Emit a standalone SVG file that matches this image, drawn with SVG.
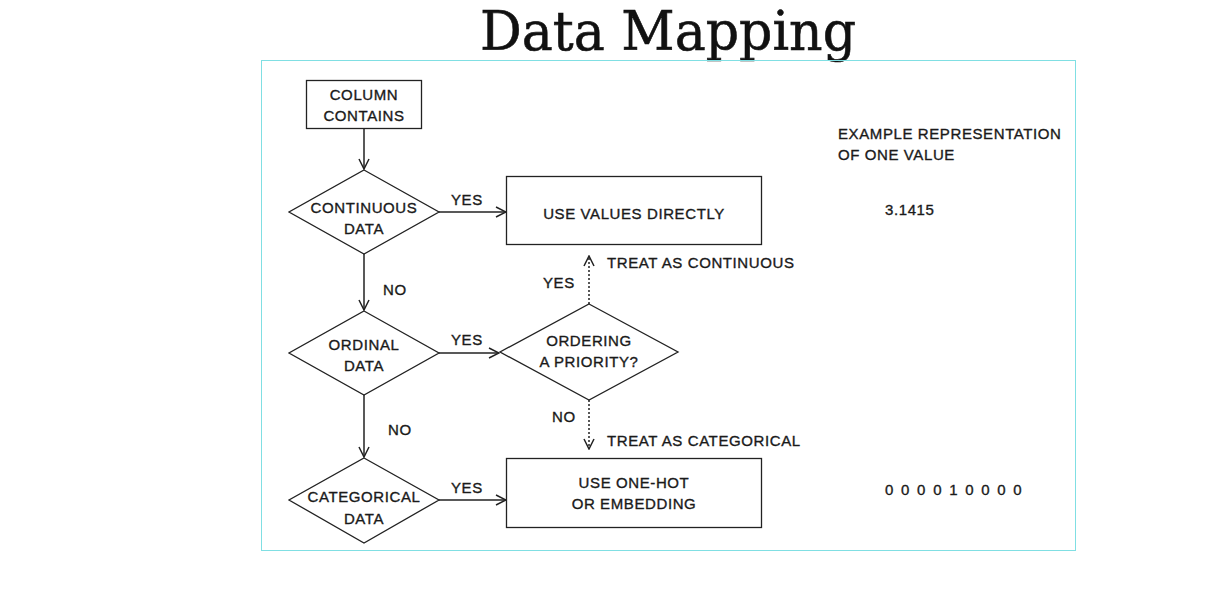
<svg xmlns="http://www.w3.org/2000/svg" width="1224" height="600" viewBox="0 0 1224 600">
<style>
.t{font-family:"Liberation Sans",Arial,sans-serif;font-size:15px;letter-spacing:0.6px;fill:#1a1a1a;stroke:#1a1a1a;stroke-width:0.35;text-anchor:middle}
.l{font-family:"Liberation Sans",Arial,sans-serif;font-size:15px;letter-spacing:0.6px;fill:#1a1a1a;stroke:#1a1a1a;stroke-width:0.35}
.s{fill:#fff;stroke:#222;stroke-width:1.3}
.c{fill:none;stroke:#222;stroke-width:1.5}
.d{fill:none;stroke:#222;stroke-width:1.5;stroke-dasharray:2 2}
</style>
<defs>
<marker id="a" viewBox="0 0 12 12" refX="11" refY="6" markerWidth="12" markerHeight="12" markerUnits="userSpaceOnUse" orient="auto">
<path d="M1,1 L11,6 L1,11" fill="none" stroke="#222" stroke-width="1.5"/>
</marker>
</defs>
<rect width="1224" height="600" fill="#fff"/>
<text x="668" y="50" font-family="'DejaVu Serif',serif" font-size="54" fill="#111" stroke="#111" stroke-width="0.6" text-anchor="middle" textLength="376" lengthAdjust="spacingAndGlyphs">Data Mapping</text>
<rect x="261.5" y="60.5" width="814" height="490" fill="none" stroke="#80dfe3" stroke-width="1"/>
<g id="connectors">
<line class="c" x1="364" y1="128" x2="364" y2="169" marker-end="url(#a)"/>
<line class="c" x1="439" y1="212" x2="506" y2="212" marker-end="url(#a)"/>
<line class="c" x1="364" y1="254" x2="364" y2="310" marker-end="url(#a)"/>
<line class="c" x1="439" y1="353" x2="499" y2="353" marker-end="url(#a)"/>
<line class="c" x1="364" y1="395" x2="364" y2="457" marker-end="url(#a)"/>
<line class="c" x1="439" y1="500" x2="506" y2="500" marker-end="url(#a)"/>
<line class="d" x1="589" y1="304" x2="589" y2="256" marker-end="url(#a)"/>
<line class="d" x1="589" y1="400" x2="589" y2="449" marker-end="url(#a)"/>
<text class="l" x="451" y="205">YES</text>
<text class="l" x="451" y="345">YES</text>
<text class="l" x="451" y="493">YES</text>
<text class="l" x="383" y="295">NO</text>
<text class="l" x="388" y="435">NO</text>
<text class="l" x="543" y="288">YES</text>
<text class="l" x="552" y="422">NO</text>
<text class="l" x="607" y="268">TREAT AS CONTINUOUS</text>
<text class="l" x="607" y="446">TREAT AS CATEGORICAL</text>
</g>
<g id="column-contains">
<rect class="s" x="306.5" y="80.5" width="115" height="48"/>
<text class="t" x="364" y="100">COLUMN</text>
<text class="t" x="364" y="121">CONTAINS</text>
</g>
<g id="continuous">
<polygon class="s" points="364,170 439,212 364,254 289,212"/>
<text class="t" x="364" y="213">CONTINUOUS</text>
<text class="t" x="364" y="234">DATA</text>
</g>
<g id="use-values">
<rect class="s" x="506.5" y="176.5" width="255" height="68"/>
<text class="t" x="634" y="219">USE VALUES DIRECTLY</text>
</g>
<g id="ordinal">
<polygon class="s" points="364,311 439,353 364,395 289,353"/>
<text class="t" x="364" y="350">ORDINAL</text>
<text class="t" x="364" y="371">DATA</text>
</g>
<g id="ordering">
<polygon class="s" points="589,304 678,352 589,400 500,352"/>
<text class="t" x="589" y="346">ORDERING</text>
<text class="t" x="589" y="367">A PRIORITY?</text>
</g>
<g id="categorical">
<polygon class="s" points="364,458 439,500 364,543 289,500"/>
<text class="t" x="364" y="502">CATEGORICAL</text>
<text class="t" x="364" y="524">DATA</text>
</g>
<g id="one-hot">
<rect class="s" x="506.5" y="458.5" width="255" height="69"/>
<text class="t" x="634" y="488">USE ONE-HOT</text>
<text class="t" x="634" y="509">OR EMBEDDING</text>
</g>
<g id="examples">
<text class="l" x="838" y="139">EXAMPLE REPRESENTATION</text>
<text class="l" x="838" y="160">OF ONE VALUE</text>
<text class="l" x="885" y="215">3.1415</text>
<text class="l" x="885" y="495" style="letter-spacing:7.7px">000010000</text>
</g>
</svg>
